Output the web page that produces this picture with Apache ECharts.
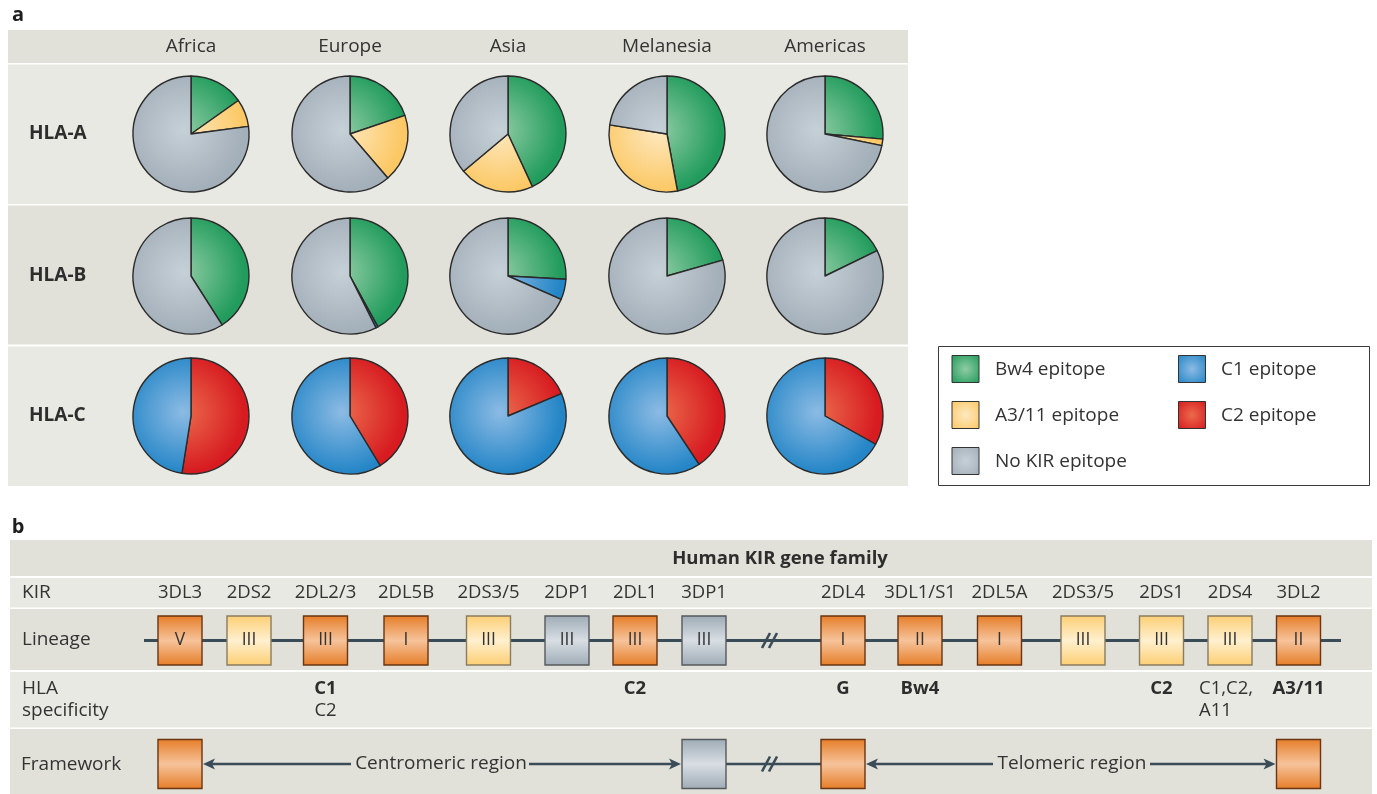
<!DOCTYPE html>
<html>
<head>
<meta charset="utf-8">
<script src="https://cdn.jsdelivr.net/npm/echarts@6/dist/echarts.min.js"></script>
<style>
  html, body { margin: 0; padding: 0; background: #ffffff; }
  #chart { width: 1377px; height: 794px; }
</style>
</head>
<body>
<div id="chart"></div>
<script>
// ---------- Panel a: KIR epitope frequencies of HLA class I, by population ----------
const regions = ['Africa', 'Europe', 'Asia', 'Melanesia', 'Americas'];
const loci = ['HLA-A', 'HLA-B', 'HLA-C'];

// Share (%) of each epitope per population; slices run clockwise from 12 o'clock
const hlaA_Bw4  = [15.2, 19.8, 43.1, 47.1, 26.4];
const hlaA_A311 = [7.7, 18.9, 20.8, 30.4, 1.8];
const hlaA_none = [77.1, 61.3, 36.1, 22.5, 71.8];

const hlaB_Bw4  = [41.0, 42.0, 25.9, 20.6, 17.8];
const hlaB_C1   = [0, 0.6, 5.7, 0, 0];
const hlaB_none = [59.0, 57.4, 68.4, 79.4, 82.2];

const hlaC_C2 = [52.5, 41.3, 18.7, 40.7, 33.1];
const hlaC_C1 = [47.5, 58.7, 81.3, 59.3, 66.9];

const legendLeft  = ['Bw4 epitope', 'A3/11 epitope', 'No KIR epitope'];
const legendRight = ['C1 epitope', 'C2 epitope'];

// ---------- Panel b: human KIR gene family ----------
const genes    = ['3DL3', '2DS2', '2DL2/3', '2DL5B', '2DS3/5', '2DP1', '2DL1', '3DP1',
                  '2DL4', '3DL1/S1', '2DL5A', '2DS3/5', '2DS1', '2DS4', '3DL2'];
const lineage  = ['V', 'III', 'III', 'I', 'III', 'III', 'III', 'III',
                  'I', 'II', 'I', 'III', 'III', 'III', 'II'];
const geneKind = ['DL', 'DS', 'DL', 'DL', 'DS', 'DP', 'DL', 'DP',
                  'DL', 'DL', 'DL', 'DS', 'DS', 'DS', 'DL'];
const specMain  = ['', '', 'C1', '', '', '', 'C2', '', 'G', 'Bw4', '', '', 'C2', '', 'A3/11'];
const specMinor = ['', '', 'C2', '', '', '', '', '', '', '', '', '', '', '', ''];
const specLeftAligned = { 13: ['C1,C2,', 'A11'] };
const frameworkGenes = ['3DL3', '3DP1', '2DL4', '3DL2'];
const regionNames = ['Centromeric region', 'Telomeric region'];

// ---------- layout ----------
const FONT = '"Open Sans", Lato, sans-serif';
const INK = '#2d2d2d';
const pieX = [191, 350, 508, 667, 825];
const pieY = [134, 276, 416];
const R = 58;
const geneX = [180, 249, 325.5, 406, 488.5, 567, 635, 704, 843, 920, 999.5, 1083, 1161.5, 1230, 1298.5];
const BOX_W = 44, BOX_H = 49;
const lineY = 640.5, fwY = 764;

const shades = {
  'Bw4 epitope':    ['#8fcca4', '#229c5c'],
  'A3/11 epitope':  ['#fde9c1', '#fcc865'],
  'No KIR epitope': ['#c6d0d7', '#a3afb9'],
  'C1 epitope':     ['#8cbbe4', '#2586c7'],
  'C2 epitope':     ['#eb6b4c', '#d71b20']
};

function radial(name, cx, cy, r) {
  return { type: 'radial', x: cx, y: cy, r: r, global: true,
    colorStops: [{ offset: 0, color: shades[name][0] }, { offset: 1, color: shades[name][1] }] };
}

const pieRows = [
  [['Bw4 epitope', hlaA_Bw4], ['A3/11 epitope', hlaA_A311], ['No KIR epitope', hlaA_none]],
  [['Bw4 epitope', hlaB_Bw4], ['C1 epitope', hlaB_C1], ['No KIR epitope', hlaB_none]],
  [['C2 epitope', hlaC_C2], ['C1 epitope', hlaC_C1]]
];

const series = [];
pieRows.forEach((row, i) => {
  regions.forEach((reg, j) => {
    const cx = pieX[j], cy = pieY[i];
    const data = row
      .filter(([name, vals]) => vals[j] > 0)
      .map(([name, vals]) => ({
        name: name, value: vals[j],
        itemStyle: { color: radial(name, cx - 8, cy - 4, R * 1.05) }
      }));
    series.push({
      type: 'pie', name: loci[i] + ' ' + reg,
      center: [cx, cy], radius: R, startAngle: 90, clockwise: true,
      silent: true, label: { show: false }, labelLine: { show: false },
      avoidLabelOverlap: false, minAngle: 0,
      itemStyle: { borderColor: '#2a2a2a', borderWidth: 1.4 },
      emphasis: { disabled: true },
      data: data
    });
  });
});

// ---------- graphic elements ----------
const g = [];
function rect(x, y, w, h, fill, extra) {
  g.push(Object.assign({ type: 'rect', shape: { x, y, width: w, height: h }, style: { fill }, silent: true }, extra || {}));
}
function text(t, x, y, opt) {
  opt = opt || {};
  g.push({ type: 'text', silent: true, z: 10, style: {
    text: t, x, y, fill: opt.fill || INK,
    font: (opt.bold ? 'bold ' : '') + (opt.size || 18) + 'px ' + FONT,
    textAlign: opt.align || 'center', textVerticalAlign: 'middle'
  }});
}
function seg(x1, y1, x2, y2, w, extra) {
  g.push(Object.assign({ type: 'line', silent: true, z: 5,
    shape: { x1, y1, x2, y2 }, style: { stroke: '#3a4c57', lineWidth: w || 2.6 } }, extra || {}));
}
function arrowHead(tipX, y, dir) {
  // dir = -1 points left, +1 points right
  const b = tipX - dir * 12, n = tipX - dir * 9;
  g.push({ type: 'polygon', silent: true, z: 6,
    shape: { points: [[tipX, y], [b, y - 5.5], [n, y], [b, y + 5.5]] },
    style: { fill: '#3a4c57' } });
}
function breakMark(x, y) {
  seg(x - 9, y + 7.5, x - 1, y - 7.5, 2.6, { z: 7 });
  seg(x - 2, y + 7.5, x + 6, y - 7.5, 2.6, { z: 7 });
}

const LIGHT = '#e9e9e3', DARK = '#e1e1da';
const TXT = 18.5;

// Panel a
text('a', 18, 15, { bold: true, size: 20, fill: '#1e1e1e' });
rect(8, 30, 900, 33, DARK);
rect(8, 64.5, 900, 139.5, LIGHT);
rect(8, 205.5, 900, 139, DARK);
rect(8, 346.5, 900, 139.5, LIGHT);
regions.forEach((r, j) => text(r, pieX[j], 47, { size: 19, fill: '#333' }));
loci.forEach((l, i) => text(l, 29, pieY[i], { bold: true, size: 19, align: 'left' }));

// Legend
rect(938.5, 346.5, 431, 139, '#ffffff', { style: { fill: '#ffffff', stroke: '#3a3a3a', lineWidth: 1 } });
function swatch(name, x, y) {
  g.push({ type: 'rect', silent: true, z: 3, shape: { x, y, width: 27, height: 27 },
    style: { fill: radial(name, x + 13.5, y + 13.5, 19), stroke: '#333', lineWidth: 1 } });
}
legendLeft.forEach((n, k) => { const y = 355.5 + k * 46; swatch(n, 952, y); text(n, 995, y + 14, { size: 19, align: 'left', fill: '#333' }); });
legendRight.forEach((n, k) => { const y = 355.5 + k * 46; swatch(n, 1178.5, y); text(n, 1221, y + 14, { size: 19, align: 'left', fill: '#333' }); });

// Panel b
text('b', 18, 527, { bold: true, size: 20, fill: '#1e1e1e' });
rect(10, 540, 1362, 36, DARK);
rect(10, 578, 1362, 29.5, LIGHT);
rect(10, 609, 1362, 61, DARK);
rect(10, 672, 1362, 55.5, LIGHT);
rect(10, 729, 1362, 65, DARK);
text('Human KIR gene family', 780, 558.5, { bold: true, size: 18.5 });
text('KIR', 22, 593, { size: 19, align: 'left', fill: '#333' });
text('Lineage', 22, 640, { size: 19, align: 'left', fill: '#333' });
text('HLA', 22, 689, { size: 19, align: 'left', fill: '#333' });
text('specificity', 22, 711, { size: 19, align: 'left', fill: '#333' });
text('Framework', 21, 765, { size: 19, align: 'left', fill: '#333' });

const boxStyle = {
  DL: { stops: ['#e67d27', '#f6c39b', '#e67d27'], stroke: '#6a3512' },
  DS: { stops: ['#fcce74', '#fff0cf', '#fcce72'], stroke: '#8a7c60' },
  DP: { stops: ['#9eabb6', '#d8dee3', '#9eabb6'], stroke: '#55595d' }
};
function geneBox(x, cy, kind) {
  const s = boxStyle[kind];
  g.push({ type: 'rect', silent: true, z: 8,
    shape: { x: x - BOX_W / 2, y: cy - BOX_H / 2, width: BOX_W, height: BOX_H },
    style: { stroke: s.stroke, lineWidth: 1.4,
      fill: { type: 'linear', x: 0, y: 0, x2: 0, y2: 1,
        colorStops: [{ offset: 0, color: s.stops[0] }, { offset: 0.5, color: s.stops[1] }, { offset: 1, color: s.stops[2] }] } } });
}

// chromosome line with break between the two halves
seg(144, lineY, 1341, lineY, 3);
breakMark(771, lineY);

genes.forEach((name, k) => {
  const x = geneX[k];
  text(name, x, 593, { size: TXT, fill: '#333' });
  geneBox(x, lineY, geneKind[k]);
  text(lineage[k], x, lineY, { size: 17.5, fill: '#333' });
  if (specMain[k]) text(specMain[k], x, 689, { bold: true, size: TXT });
  if (specMinor[k]) text(specMinor[k], x, 711, { size: TXT, fill: '#333' });
  if (specLeftAligned[k]) {
    text(specLeftAligned[k][0], x - 31, 689, { size: TXT, align: 'left', fill: '#333' });
    text(specLeftAligned[k][1], x - 31, 711, { size: TXT, align: 'left', fill: '#333' });
  }
});

// framework genes and region arrows
const fx = frameworkGenes.map(n => geneX[genes.indexOf(n)]);
seg(fx[1] + BOX_W / 2, fwY, fx[2] - BOX_W / 2, fwY, 2.6);
breakMark(771, fwY);
frameworkGenes.forEach((n, k) => geneBox(fx[k], fwY, geneKind[genes.indexOf(n)]));

const cenMid = 441, telMid = 1072;
text(regionNames[0], cenMid, fwY, { size: 19, fill: '#333' });
text(regionNames[1], telMid, fwY, { size: 19, fill: '#333' });
seg(fx[0] + BOX_W / 2 + 8, fwY, 351, fwY);
arrowHead(fx[0] + BOX_W / 2 + 1, fwY, -1);
seg(529, fwY, fx[1] - BOX_W / 2 - 8, fwY);
arrowHead(fx[1] - BOX_W / 2 - 1, fwY, 1);
seg(fx[2] + BOX_W / 2 + 8, fwY, 993, fwY);
arrowHead(fx[2] + BOX_W / 2 + 1, fwY, -1);
seg(1150, fwY, fx[3] - BOX_W / 2 - 8, fwY);
arrowHead(fx[3] - BOX_W / 2 - 1, fwY, 1);

const chart = echarts.init(document.getElementById('chart'), null, { renderer: 'canvas' });
chart.setOption({
  animation: false,
  backgroundColor: '#ffffff',
  graphic: { elements: g },
  series: series
});
</script>
</body>
</html>
